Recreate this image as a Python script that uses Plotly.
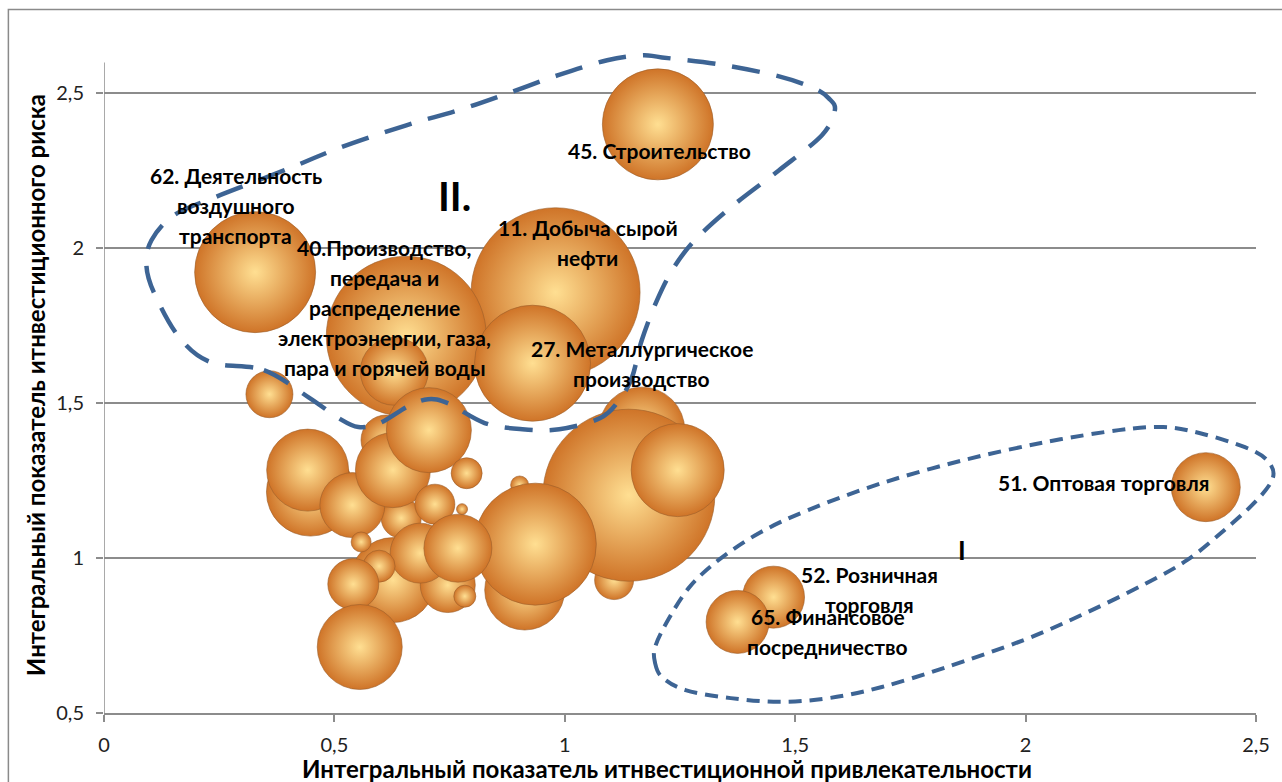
import plotly.graph_objects as go

# ---------------- data ----------------
# x: integral indicator of investment attractiveness, y: integral indicator of investment risk
bubble_x = [1.167, 0.448, 0.913, 0.627, 0.746, 0.645, 0.612, 0.902, 1.107,
            0.980, 0.656, 0.930, 0.630, 0.328, 1.202, 1.139, 1.245, 0.936,
            0.442, 0.539, 0.627, 0.705, 0.359, 0.787, 0.718, 0.777, 0.721,
            0.686, 0.768, 0.558, 0.597, 0.541, 0.555, 0.783,
            2.391, 1.453, 1.375]
bubble_y = [1.413, 1.213, 0.897, 0.929, 0.913, 1.129, 1.381, 1.236, 0.929,
            1.858, 1.716, 1.629, 1.603, 1.923, 2.400, 1.203, 1.284, 1.045,
            1.284, 1.171, 1.284, 1.413, 1.529, 1.274, 1.174, 1.158, 1.100,
            1.016, 1.032, 1.052, 0.974, 0.916, 0.713, 0.877,
            1.229, 0.874, 0.794]
bubble_size = [86, 88, 80, 85, 55, 40, 50, 18, 39,
               169, 160, 116, 68, 121, 111, 172, 93, 122,
               82, 65, 75, 85, 47, 31, 40, 11, 7,
               60, 68, 20, 32, 51, 85, 22,
               69, 62, 63]

# labels: (lines, x, y of first line)
label_lines = [
    ["62. Деятельность", "воздушного", "транспорта"],
    ["40.Производство,", "передача и", "распределение", "электроэнергии, газа,", "пара и горячей воды"],
    ["11. Добыча сырой", "нефти"],
    ["45. Строительство"],
    ["27. Металлургическое", "производство"],
    ["51. Оптовая торговля"],
    ["52. Розничная", "торговля"],
    ["65. Финансовое", "посредничество"],
]
label_x = [0.286, 0.608, 1.050, 1.206, 1.167, 2.170, 1.662, 1.571]
label_y = [2.235, 2.003, 2.068, 2.316, 1.677, 1.245, 0.948, 0.810]

group_names = ["II.", "I"]
group_x = [0.761, 1.861]
group_y = [2.168, 1.026]

# dashed contour points (data units)
loop2_x = [0.347, 0.444, 0.509, 0.552, 0.599, 0.660, 0.703, 0.746, 0.826, 0.908,
           0.988, 1.077, 1.118, 1.146, 1.167, 1.200, 1.237, 1.286, 1.366, 1.465,
           1.558, 1.586, 1.573, 1.541, 1.465, 1.334, 1.211, 1.167, 1.092, 0.984,
           0.876, 0.768, 0.656, 0.509, 0.392, 0.241, 0.152, 0.103, 0.092, 0.109,
           0.163, 0.232]
loop2_y = [1.607, 1.519, 1.452, 1.423, 1.436, 1.490, 1.513, 1.500, 1.436, 1.416,
           1.416, 1.452, 1.510, 1.584, 1.703, 1.832, 1.939, 2.032, 2.139, 2.252,
           2.365, 2.445, 2.484, 2.516, 2.555, 2.594, 2.616, 2.623, 2.607, 2.558,
           2.500, 2.445, 2.397, 2.323, 2.252, 2.165, 2.107, 2.026, 1.945, 1.855,
           1.713, 1.632]
loop1_x = [1.196, 1.211, 1.262, 1.360, 1.465, 1.573, 1.688, 1.828, 1.997, 2.131,
           2.262, 2.351, 2.431, 2.502, 2.537, 2.524, 2.476, 2.379, 2.299, 2.202,
           2.042, 1.865, 1.688, 1.528, 1.422, 1.334, 1.271, 1.224, 1.196]
loop1_y = [0.661, 0.616, 0.574, 0.548, 0.536, 0.548, 0.584, 0.648, 0.736, 0.823,
           0.919, 0.994, 1.090, 1.187, 1.261, 1.316, 1.358, 1.403, 1.423, 1.413,
           1.374, 1.316, 1.242, 1.155, 1.081, 0.994, 0.907, 0.800, 0.713]

x_title = "Интегральный показатель итнвестиционной привлекательности"
y_title = "Интегральный показатель итнвестиционного риска"

# ---------------- layout constants ----------------
X_RANGE = [0, 2.5]
Y_RANGE = [0.5, 2.64]
FONT = "Lato, 'Open Sans', 'DejaVu Sans', sans-serif"
GRID = "#8c8c8c"
LOOP = "#3d6494"


def to_paper(xs, ys):
    px = [(x - X_RANGE[0]) / (X_RANGE[1] - X_RANGE[0]) for x in xs]
    py = [(y - Y_RANGE[0]) / (Y_RANGE[1] - Y_RANGE[0]) for y in ys]
    return px, py


def closed_spline_path(xs, ys):
    px, py = to_paper(xs, ys)
    pts = list(zip(px, py))
    n = len(pts)
    d = "M {:.5f},{:.5f}".format(*pts[0])
    for i in range(n):
        p0 = pts[i - 1]
        p1 = pts[i]
        p2 = pts[(i + 1) % n]
        p3 = pts[(i + 2) % n]
        c1 = (p1[0] + (p2[0] - p0[0]) / 6, p1[1] + (p2[1] - p0[1]) / 6)
        c2 = (p2[0] - (p3[0] - p1[0]) / 6, p2[1] - (p3[1] - p1[1]) / 6)
        d += " C {:.5f},{:.5f} {:.5f},{:.5f} {:.5f},{:.5f}".format(*c1, *c2, *p2)
    return d + " Z"


fig = go.Figure()

fig.add_trace(go.Scatter(
    x=bubble_x, y=bubble_y, mode="markers",
    marker=dict(
        size=bubble_size, sizemode="diameter", sizeref=1,
        color="#cf7428",
        gradient=dict(type="radial", color="#ffdf92"),
        line=dict(width=0.6, color="#9a5e2a"),
        opacity=1,
    ),
    cliponaxis=False,
    hoverinfo="x+y",
    showlegend=False,
))

annotations = []
LINE_STEP = 30
for lines, lx, ly in zip(label_lines, label_x, label_y):
    for i, t in enumerate(lines):
        annotations.append(dict(
            x=lx, y=ly, xref="x", yref="y", text="<b>%s</b>" % t,
            showarrow=False, yshift=-LINE_STEP * i, xanchor="center", yanchor="middle",
            font=dict(family=FONT, size=21, color="#000000"),
        ))
for name, gx, gy, fs in zip(group_names, group_x, group_y, [40, 26]):
    annotations.append(dict(
        x=gx, y=gy, xref="x", yref="y", text="<b>%s</b>" % name,
        showarrow=False, xanchor="center", yanchor="middle",
        font=dict(family=FONT, size=fs, color="#000000"),
    ))
annotations.append(dict(
    x=0.489, y=-0.084, xref="paper", yref="paper", text="<b>%s</b>" % x_title,
    showarrow=False, xanchor="center", yanchor="middle",
    font=dict(family=FONT, size=24, color="#000000"),
))
annotations.append(dict(
    x=-0.0596, y=0.495, xref="paper", yref="paper", text="<b>%s</b>" % y_title,
    showarrow=False, xanchor="center", yanchor="middle", textangle=-90,
    font=dict(family=FONT, size=24, color="#000000"),
))

shapes = [
    # outer chart border
    dict(type="rect", xref="paper", yref="paper", x0=-0.083, y0=-0.3, x1=1.2, y1=1.061,
         line=dict(color="#8a8a8a", width=1.5), layer="below"),
    # vertical axis line
    dict(type="line", xref="x", yref="y", x0=0, x1=0, y0=0.5, y1=2.6,
         line=dict(color=GRID, width=1.5), layer="below"),
    dict(type="path", xref="paper", yref="paper", path=closed_spline_path(loop2_x, loop2_y),
         line=dict(color=LOOP, width=4.5, dash="28px,17px")),
    dict(type="path", xref="paper", yref="paper", path=closed_spline_path(loop1_x, loop1_y),
         line=dict(color=LOOP, width=4, dash="13px,8px")),
]

fig.update_layout(
    width=1282, height=782, autosize=False,
    margin=dict(l=104, r=20, t=50, b=69),
    paper_bgcolor="white", plot_bgcolor="white",
    separators=", ",
    font=dict(family=FONT, size=20, color="#222222"),
    annotations=annotations,
    shapes=shapes,
    xaxis=dict(
        range=X_RANGE, dtick=0.5, tick0=0, showgrid=False, zeroline=False,
        showline=True, linecolor=GRID, linewidth=1.5,
        ticks="outside", ticklen=7, tickcolor=GRID, tickwidth=1.5,
        tickfont=dict(family=FONT, size=20, color="#222222"),
        ticklabelstandoff=6,
    ),
    yaxis=dict(
        range=Y_RANGE, dtick=0.5, tick0=0.5, showgrid=True, gridcolor=GRID, gridwidth=1.5,
        zeroline=False, showline=False,
        ticks="outside", ticklen=7, tickcolor=GRID, tickwidth=1.5,
        tickfont=dict(family=FONT, size=20, color="#222222"),
        ticklabelstandoff=8,
    ),
)

fig.write_html(
    "out.html",
    config={"displayModeBar": False},
    post_script="document.body.style.margin='0';document.body.style.padding='0';",
)
